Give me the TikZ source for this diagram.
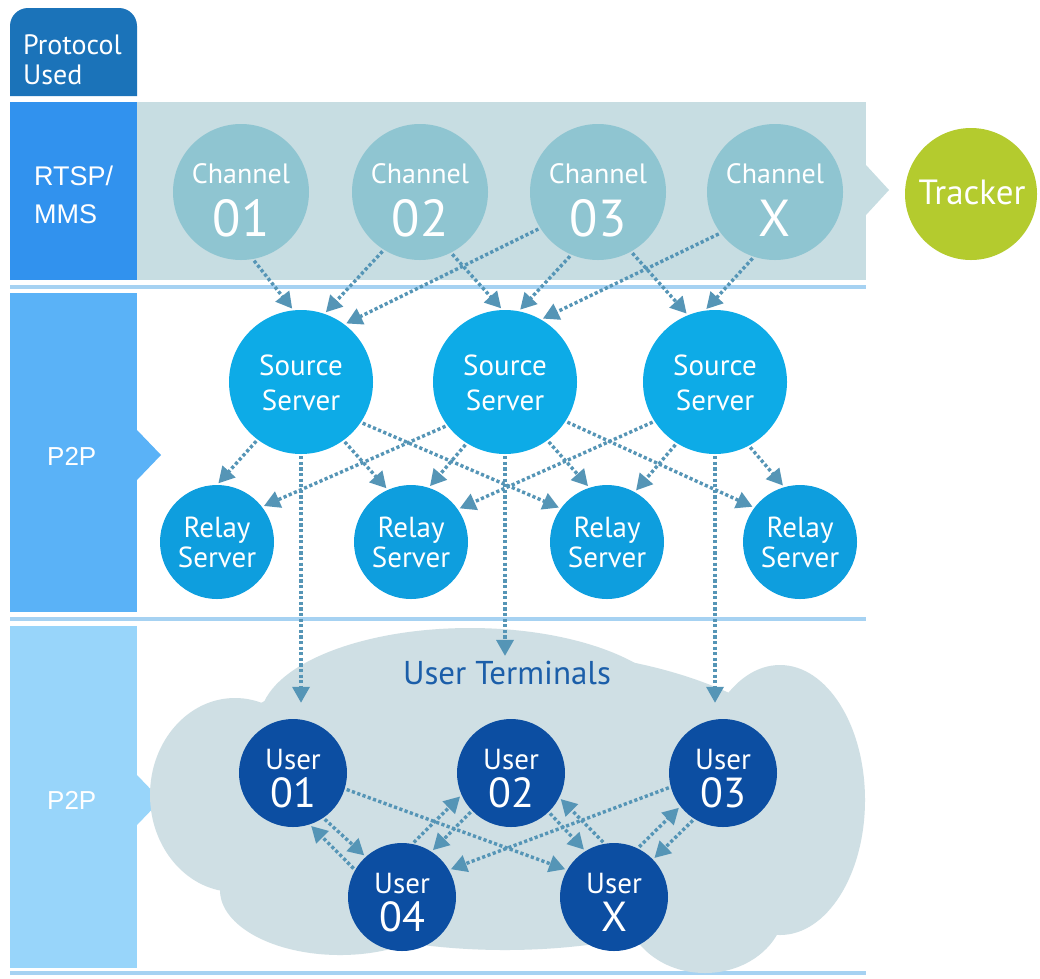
\documentclass[tikz,border=0pt]{standalone}
\usepackage{fontspec}
\setmainfont{PT Sans}
\newfontfamily\arialf{Liberation Sans}
\usetikzlibrary{arrows.meta}
\definecolor{protoc}{HTML}{1B73B9}
\definecolor{rtspc}{HTML}{3192EE}
\definecolor{ptpa}{HTML}{5AB2F7}
\definecolor{ptpb}{HTML}{98D5FA}
\definecolor{bandc}{HTML}{C7DDE2}
\definecolor{chanc}{HTML}{8FC5D1}
\definecolor{trackc}{HTML}{B4CB2E}
\definecolor{srcc}{HTML}{0DABE7}
\definecolor{relc}{HTML}{0E9EDE}
\definecolor{userc}{HTML}{0C4EA2}
\definecolor{cloudc}{HTML}{CFDFE4}
\definecolor{arrc}{HTML}{5595B6}
\definecolor{sepc}{HTML}{A6D2F2}
\definecolor{utc}{HTML}{1B5EA9}
\newcommand\myfs[1]{\fontsize{#1}{#1}\selectfont}
\begin{document}
\begin{tikzpicture}[x=1pt,y=-1pt,
  disc/.style={circle, inner sep=0pt, minimum size=#1},
  chan/.style={disc=136pt, fill=chanc},
  src/.style={disc=144pt, fill=srcc},
  rel/.style={disc=114pt, fill=relc},
  usr/.style={disc=108pt, fill=userc},
  wt/.style={text=white, inner sep=0pt, anchor=base},
  lt/.style={text=white, inner sep=0pt, anchor=base west},
  flow/.style={draw=arrc, line width=3.4pt, dash pattern=on 3.2pt off 2.4pt,
    -{Triangle[length=16pt,width=17pt]}, shorten >=2pt, shorten <=2pt},
  sep/.style={draw=sepc, line width=4pt},
]
\useasboundingbox (0,0) rectangle (1040,978);
\fill[white] (0,0) rectangle (1040,978);

% left column
\fill[protoc] (10,96) [rounded corners=18pt] -- (10,8) -- (137,8) [sharp corners] -- (137,96) -- cycle;
\fill[rtspc] (10,102) rectangle (137,280);
\fill[rtspc] (137,163) -- (162,190) -- (137,217) -- cycle;
\fill[ptpa] (10,293) rectangle (137,612);
\fill[ptpa] (137,430) -- (161,455) -- (137,480) -- cycle;
\fill[ptpb] (10,626) rectangle (137,968);
\fill[ptpb] (137,775) -- (161,800) -- (137,825) -- cycle;

% band
\fill[bandc] (137,102) rectangle (866,280);
\fill[bandc] (866,165) -- (889,190) -- (866,215) -- cycle;

% separators
\draw[sep] (10,286.5) -- (866,286.5);
\draw[sep] (10,619) -- (866,619);
\draw[sep] (10,973) -- (866,973);

% cloud
\begin{scope}[cloudc]
\fill (505,800) ellipse [x radius=320pt, y radius=150pt];
\fill (470,720) ellipse [x radius=210pt, y radius=92pt];
\fill (235,795) ellipse [x radius=85pt, y radius=97pt];
\fill (780,800) ellipse [x radius=85pt, y radius=135pt];
\fill (705,905) ellipse [x radius=80pt, y radius=68pt];
\fill (340,890) ellipse [x radius=120pt, y radius=65pt];
\end{scope}

% left texts
\node[lt, font=\myfs{28}] (pu1) at (23,54) {Protocol};
\node[lt, font=\myfs{28}] (pu2) at (23,84) {Used};
\node[lt, font=\arialf\myfs{27}] (rt1) at (34,185) {RTSP/};
\node[lt, font=\arialf\myfs{27}] (rt2) at (34,223) {MMS};
\node[lt, font=\arialf\myfs{26}] (pp1) at (47,465) {P2P};
\node[lt, font=\arialf\myfs{26}] (pp2) at (47,809) {P2P};

% channels
\node[chan] (c1) at (241,192) {};
\node[chan] (c2) at (420,192) {};
\node[chan] (c3) at (598,192) {};
\node[chan] (cx) at (775,192) {};
\foreach \n/\x/\t in {c1/241/01, c2/420/02, c3/598/03, cx/775/X}{
  \node[wt, font=\myfs{28}] (\n a) at (\x,183) {Channel};
  \node[wt, font=\myfs{52}] (\n b) at (\x,236) {\t};
}
\node[disc=132pt, fill=trackc] (tr) at (971,194) {};
\node[wt, font=\myfs{35}] (tra) at (972,204) {Tracker};

% source servers
\node[src] (s1) at (301,382) {};
\node[src] (s2) at (505,382) {};
\node[src] (s3) at (715,382) {};
\foreach \n/\x in {s1/301, s2/505, s3/715}{
  \node[wt, font=\myfs{29}] (\n a) at (\x,375) {Source};
  \node[wt, font=\myfs{29}] (\n b) at (\x,410) {Server};
}

% relay servers
\node[rel] (r1) at (217,542) {};
\node[rel] (r2) at (411,542) {};
\node[rel] (r3) at (607,542) {};
\node[rel] (r4) at (800,542) {};
\foreach \n/\x in {r1/217, r2/411, r3/607, r4/800}{
  \node[wt, font=\myfs{29}] (\n a) at (\x,537) {Relay};
  \node[wt, font=\myfs{29}] (\n b) at (\x,567) {Server};
}

% users
\node[text=utc, font=\myfs{33}, inner sep=3pt] (ut) at (507,673) {User Terminals};
\node[usr] (u1) at (293,773) {};
\node[usr] (u2) at (511,773) {};
\node[usr] (u3) at (723,773) {};
\node[usr] (u4) at (402,897) {};
\node[usr] (ux) at (614,897) {};
\foreach \n/\x/\y/\t in {u1/293/773/01, u2/511/773/02, u3/723/773/03, u4/402/897/04, ux/614/897/X}{
  \node[wt, font=\myfs{29}] (\n a) at (\x,\y-4) {User};
  \node[wt, font=\myfs{42}] (\n b) at (\x,\y+34) {\t};
}

% channel -> source
\draw[flow] (c1.-80) -- (s1.96);
\draw[flow] (c2.-122) -- (s1.71);
\draw[flow] (c3.-148) -- (s1.53);
\draw[flow] (c2.-63) -- (s2.92);
\draw[flow] (c3.-113) -- (s2.79);
\draw[flow] (cx.-143) -- (s2.60);
\draw[flow] (c3.-61) -- (s3.112);
\draw[flow] (cx.-108) -- (s3.98);

% source -> relay
\draw[flow] (s1.-127) -- (r1.90);
\draw[flow] (s1.-54) -- (r2.114);
\draw[flow] (s1.-34) -- (r3.144);
\draw[flow] (s2.-143) -- (r1.38);
\draw[flow] (s2.-122) -- (r2.72);
\draw[flow] (s2.-54) -- (r3.108);
\draw[flow] (s2.-33) -- (r4.143);
\draw[flow] (s3.-147) -- (r2.35);
\draw[flow] (s3.-122) -- (r3.61);
\draw[flow] (s3.-62) -- (r4.106);

% source -> users
\draw[flow] (s1.south) -- ([yshift=14pt]s1.south |- u1.north);
\draw[flow] (s2.south) -- (s2.south |- ut.north);
\draw[flow] (s3.south) -- ([yshift=14pt]s3.south |- u3.north);

% user <-> user
\draw[flow] (u1.-56) -- (u4.132);
\draw[flow] (u4.150) -- (u1.-72);
\draw[flow] (u1.-17) -- (ux.150);
\draw[flow] (u4.79) -- (u2.204);
\draw[flow] (u2.224) -- (u4.57);
\draw[flow] (u3.-165) -- (u4.30);
\draw[flow] (u2.-46) -- (ux.122);
\draw[flow] (ux.100) -- (u2.-27);
\draw[flow] (ux.64) -- (u3.-142);
\draw[flow] (u3.-122) -- (ux.44);
\end{tikzpicture}
\end{document}
